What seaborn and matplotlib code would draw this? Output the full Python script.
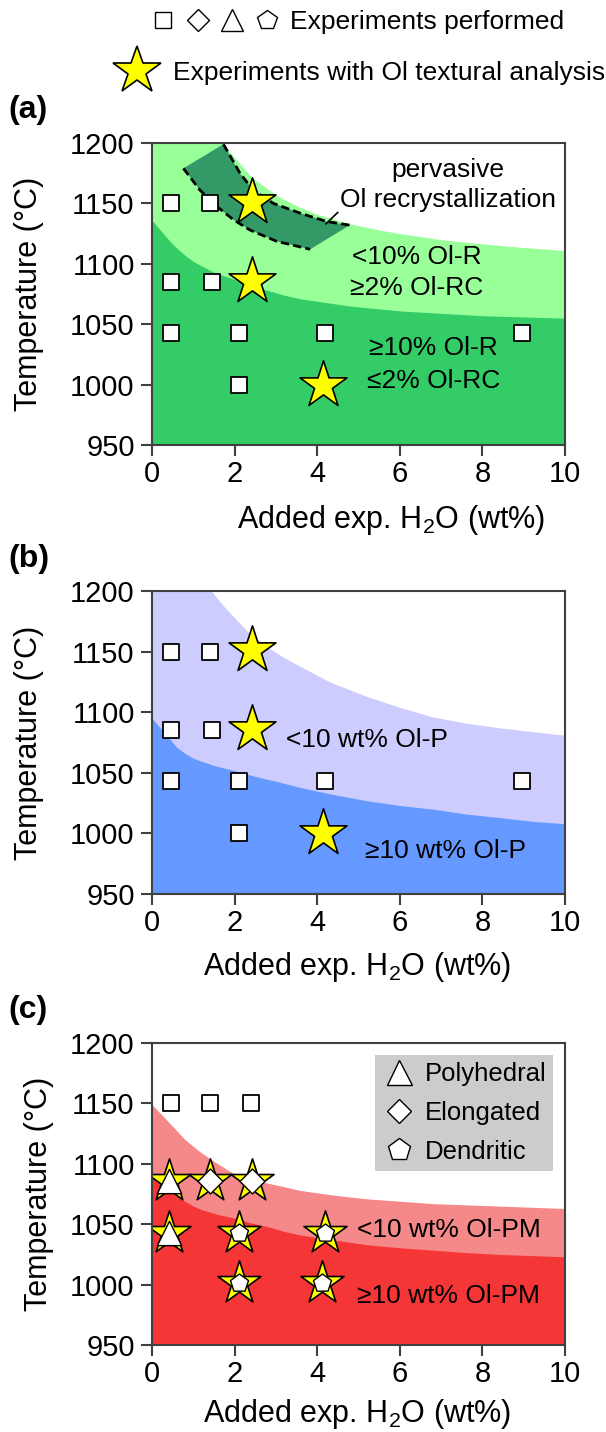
import matplotlib
matplotlib.use('Agg')
import matplotlib.pyplot as plt
import seaborn as sns
from matplotlib.lines import Line2D
from matplotlib.legend_handler import HandlerTuple

sns.set_style('ticks')
plt.rcParams['font.family'] = ['Liberation Sans', 'DejaVu Sans']
plt.rcParams['mathtext.fontset'] = 'custom'
plt.rcParams['mathtext.rm'] = 'Liberation Sans'
plt.rcParams['mathtext.it'] = 'Liberation Sans:italic'
plt.rcParams['mathtext.bf'] = 'Liberation Sans:bold'
for k in ['text.color', 'axes.labelcolor', 'xtick.labelcolor', 'ytick.labelcolor']:
    plt.rcParams[k] = 'black'

# experiments (panels a and b)
sq_x = [0.45, 1.4, 0.45, 1.45, 0.45, 2.1, 4.2, 8.95, 2.1]
sq_T = [1150, 1150, 1085, 1085, 1043, 1043, 1043, 1043, 1000]
star_x = [2.42, 2.42, 4.15]
star_T = [1151, 1086, 1000]

# experiments (panel c)
c_sq_x = [0.45, 1.4, 2.4]
c_sq_T = [1150, 1150, 1150]
c_star_x = [0.42, 1.4, 2.42, 0.42, 2.1, 4.18, 2.1, 4.12]
c_star_T = [1086, 1086, 1086, 1043, 1043, 1043, 1001, 1001]
c_shape = ['Polyhedral', 'Elongated', 'Elongated', 'Polyhedral',
           'Dendritic', 'Dendritic', 'Dendritic', 'Dendritic']

# region boundaries
a_upper_x = [0, 1.7, 2.0, 2.4, 3.0, 3.5, 4.0, 4.8, 5.5, 6.0, 7.0, 8.0, 9.0, 10]
a_upper_T = [1200, 1200, 1188, 1172, 1157, 1148, 1141, 1133, 1128, 1125, 1120, 1116.5, 1113.5, 1111]
a_lower_x = [0, 0.15, 0.3, 0.45, 0.6, 0.8, 1.0, 1.16, 1.5, 2.0, 2.4, 2.8, 3.2, 3.6, 4.2,
             4.8, 5.4, 6.0, 7.0, 8.0, 9.0, 10]
a_lower_T = [1136, 1130, 1124, 1118, 1113, 1107, 1102, 1099, 1093, 1087, 1082, 1078, 1074,
             1071, 1068, 1065, 1063, 1061, 1059, 1057, 1056, 1055]
band_up_x = [1.73, 2.13, 2.45, 2.94, 3.58, 4.23, 4.79]
band_up_T = [1199, 1175, 1161, 1150, 1142, 1135, 1132]
band_lo_x = [0.76, 1.16, 1.57, 1.97, 2.37, 3.02, 3.83]
band_lo_T = [1179, 1161, 1147.5, 1136.5, 1128, 1118.6, 1112]
leader_x = [4.50, 4.21]
leader_T = [1142.6, 1133]

b_upper_x = [0, 1.44, 1.6, 1.8, 1.97, 2.3, 2.78, 3.2, 3.58, 4.3, 5.2, 6.0, 6.81, 7.6, 8.43, 9.2, 10]
b_upper_T = [1200, 1200, 1193, 1185, 1179, 1167, 1154, 1145, 1138, 1125, 1113, 1104, 1096, 1091,
             1087, 1084, 1081]
b_lower_x = [0, 0.15, 0.3, 0.45, 0.6, 0.8, 1.0, 1.16, 1.5, 1.97, 2.5, 3.0, 3.58, 4.4, 5.2, 6.0,
             6.81, 7.6, 8.43, 9.2, 10]
b_lower_T = [1095, 1089, 1083, 1077, 1071, 1066, 1062, 1060, 1056, 1052, 1047, 1043, 1038, 1032,
             1027, 1023, 1020, 1016, 1013, 1010, 1008]

c_upper_x = [0, 0.25, 0.5, 0.8, 1.16, 1.5, 1.97, 2.4, 2.8, 3.2, 3.58, 4.4, 5.2, 6.0, 6.81, 7.6,
             8.4, 9.2, 10]
c_upper_T = [1149, 1140, 1131, 1120, 1110, 1102, 1092, 1087, 1084, 1081, 1078, 1074, 1071, 1069,
             1067, 1066, 1065, 1064, 1063]
c_lower_x = [0, 0.2, 0.4, 0.6, 0.8, 1.0, 1.2, 1.6, 2.0, 2.4, 2.8, 3.2, 3.6, 4.4, 5.2, 6.0, 6.8,
             7.6, 8.4, 9.2, 10]
c_lower_T = [1088, 1083, 1078, 1073, 1069, 1065, 1062, 1058, 1055, 1051, 1048, 1044, 1041, 1037,
             1033, 1030.5, 1028.5, 1026.5, 1025, 1024, 1023]

x_ticks = [0, 2, 4, 6, 8, 10]
T_ticks = [950, 1000, 1050, 1100, 1150, 1200]

spine_c = '#404040'
yellow = '#FFFF00'

fig = plt.figure(figsize=(6.06, 14.32), dpi=100)
W, H = 606, 1432


def make_ax(top, bottom):
    ax = fig.add_axes([152 / W, 1 - bottom / H, 413 / W, (bottom - top) / H])
    ax.set_xlim(0, 10)
    ax.set_ylim(950, 1200)
    ax.set_xticks(x_ticks)
    ax.set_yticks(T_ticks)
    ax.tick_params(labelsize=21, length=8, width=1.5, color=spine_c, pad=3)
    ax.tick_params(axis='y', pad=4.5)
    for s in ax.spines.values():
        s.set_color(spine_c)
        s.set_linewidth(1.5)
        s.set_zorder(10)
    ax.set_xlabel('Added exp. H$_2$O (wt%)', fontsize=22)
    ax.set_ylabel('Temperature (°C)', fontsize=22)
    return ax


def squares(ax, x, y):
    sns.scatterplot(x=x, y=y, marker='s', s=140, color='white', edgecolor='black',
                    linewidth=1.3, ax=ax, zorder=5, legend=False)


def stars(ax, x, y, s=1260):
    sns.scatterplot(x=x, y=y, marker='*', s=s, color=yellow, edgecolor='black',
                    linewidth=1.2, ax=ax, zorder=6, legend=False)


# ---------- (a)
ax = make_ax(143, 445)
ax.fill_between(a_upper_x, 950, a_upper_T, color='#99FF99', lw=0, zorder=1)
ax.fill_between(a_lower_x, 950, a_lower_T, color='#33CC66', lw=0, zorder=2)
ax.fill(band_up_x + band_lo_x[::-1], band_up_T + band_lo_T[::-1],
        color='#339966', lw=0, zorder=3)
ax.plot(band_up_x, band_up_T, color='black', ls=(0, (3.0, 1.5)), lw=2.0, zorder=4)
ax.plot(band_lo_x, band_lo_T, color='black', ls=(0, (3.0, 1.5)), lw=2.0, zorder=4)
ax.plot(leader_x, leader_T, color='black', lw=1.2, zorder=4)
squares(ax, sq_x, sq_T)
stars(ax, star_x, star_T)
txt = dict(fontsize=19, ha='center', va='center', zorder=7)
ax.text(7.17, 1178, 'pervasive', **txt)
ax.text(7.17, 1153, 'Ol recrystallization', **txt)
ax.text(6.41, 1106, '<10% Ol-R', **txt)
ax.text(6.41, 1080, '≥2% Ol-RC', **txt)
ax.text(6.81, 1030, '≥10% Ol-R', **txt)
ax.text(6.81, 1002.6, '≤2% Ol-RC', **txt)
ax.xaxis.set_label_coords(0.579, -0.192)
ax.yaxis.set_label_coords(-0.2615, 0.5)

# ---------- (b)
ax = make_ax(591, 894)
ax.fill_between(b_upper_x, 950, b_upper_T, color='#CCCCFF', lw=0, zorder=1)
ax.fill_between(b_lower_x, 950, b_lower_T, color='#6699FF', lw=0, zorder=2)
squares(ax, sq_x, sq_T)
stars(ax, star_x, star_T)
ax.text(5.2, 1077, '<10 wt% Ol-P', **txt)
ax.text(7.11, 985.6, '≥10 wt% Ol-P', **txt)
ax.xaxis.set_label_coords(0.496, -0.185)
ax.yaxis.set_label_coords(-0.2615, 0.5)

# ---------- (c)
ax = make_ax(1043, 1345)
ax.fill_between(c_upper_x, 950, c_upper_T, color='#F58888', lw=0, zorder=1)
ax.fill_between(c_lower_x, 950, c_lower_T, color='#F53636', lw=0, zorder=2)
squares(ax, c_sq_x, c_sq_T)
stars(ax, c_star_x, c_star_T, s=1060)
shape_marker = {'Polyhedral': ('^', 306), 'Elongated': ('D', 161), 'Dendritic': ('p', 185)}
for shp, (mk, sz) in shape_marker.items():
    xs = [x for x, k in zip(c_star_x, c_shape) if k == shp]
    ys = [y for y, k in zip(c_star_T, c_shape) if k == shp]
    sns.scatterplot(x=xs, y=ys, marker=mk, s=sz, color='white', edgecolor='black',
                    linewidth=1.0, ax=ax, zorder=7, legend=False)
ax.text(7.19, 1045, '<10 wt% Ol-PM', **txt)
ax.text(7.17, 990.5, '≥10 wt% Ol-PM', **txt)
ax.xaxis.set_label_coords(0.496, -0.171)
ax.yaxis.set_label_coords(-0.237, 0.5)
hc = [Line2D([], [], marker='^', ls='none', mfc='white', mec='black', ms=18, mew=1),
      Line2D([], [], marker='D', ls='none', mfc='white', mec='black', ms=12.7, mew=1),
      Line2D([], [], marker='p', ls='none', mfc='white', mec='black', ms=16.6, mew=1)]
leg = ax.legend(hc, ['Polyhedral', 'Elongated', 'Dendritic'], loc='upper right',
                bbox_to_anchor=(0.9717, 0.960), borderaxespad=0, borderpad=0.25,
                handlelength=1.4, handletextpad=0.31, labelspacing=0.6,
                fontsize=18.5, fancybox=False, framealpha=1)
leg.get_frame().set_facecolor('#CCCCCC')
leg.get_frame().set_edgecolor('none')
leg.set_zorder(12)

# ---------- panel tags
for tag, yc in [('(a)', 110), ('(b)', 559), ('(c)', 1010)]:
    fig.text(8 / W, 1 - yc / H, tag, fontsize=23, fontweight='bold', ha='left', va='center')

# ---------- header legends
shapes = (Line2D([], [], marker='s', ls='none', mfc='white', mec='black', ms=11, mew=1),
          Line2D([], [], marker='D', ls='none', mfc='white', mec='black', ms=11, mew=1),
          Line2D([], [], marker='^', ls='none', mfc='white', mec='black', ms=16, mew=1),
          Line2D([], [], marker='p', ls='none', mfc='white', mec='black', ms=14.8, mew=1))
fig.legend([shapes], ['Experiments performed'], loc='center left',
           bbox_to_anchor=(145.6 / W, 1 - 22 / H), frameon=False, fontsize=19,
           borderpad=0, borderaxespad=0, handlelength=5.26, handletextpad=0.2,
           handler_map={tuple: HandlerTuple(ndivide=None, pad=0)})
star_h = Line2D([], [], marker='*', ls='none', mfc=yellow, mec='black', ms=35.6, mew=1.2)
fig.legend([star_h], ['Experiments with Ol textural analysis'], loc='center left',
           bbox_to_anchor=(110.6 / W, 1 - 73 / H), frameon=False, fontsize=19,
           borderpad=0, borderaxespad=0, handlelength=2.0, handletextpad=0.36)

fig.savefig('out.png', dpi=100)
